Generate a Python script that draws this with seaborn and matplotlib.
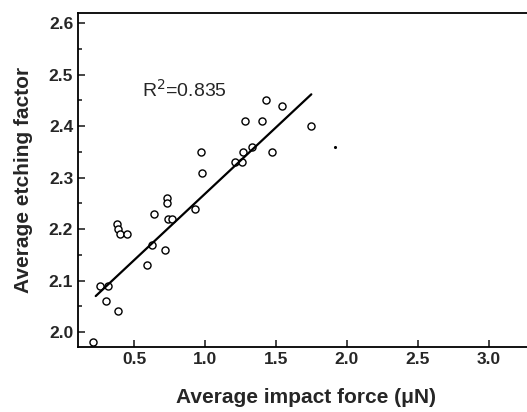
import numpy as np
import pandas as pd
import seaborn as sns
import matplotlib.pyplot as plt
from matplotlib.ticker import MultipleLocator

# impact force (uN) vs etching factor
force = [0.21, 0.26, 0.32, 0.30, 0.39, 0.38, 0.39, 0.40, 0.45,
         0.59, 0.63, 0.64, 0.72, 0.73, 0.73, 0.74, 0.77, 0.93,
         0.97, 0.98, 1.21, 1.26, 1.27, 1.33, 1.28, 1.40, 1.43,
         1.54, 1.47, 1.75]
etching = [1.98, 2.09, 2.09, 2.06, 2.04, 2.21, 2.20, 2.19, 2.19,
           2.13, 2.17, 2.23, 2.16, 2.26, 2.25, 2.22, 2.22, 2.24,
           2.35, 2.31, 2.33, 2.33, 2.35, 2.36, 2.41, 2.41, 2.45,
           2.44, 2.35, 2.40]
# fitted line as drawn in the figure (end points)
fit_x = [0.23, 1.75]
fit_y = [2.070, 2.462]
stray_x = [1.92]
stray_y = [2.36]
r2_text = "R$^2$=0.835"

df = pd.DataFrame({"force": force, "etching": etching})

sns.set_theme(style="ticks")
plt.rcParams['font.family'] = ['Liberation Sans', 'DejaVu Sans']

fig = plt.figure(figsize=(5.27, 4.12), dpi=100)
# right spine lies just past the image edge
ax = fig.add_axes([78 / 527, 1 - 347 / 412, (534 - 78) / 527, (347 - 13) / 412])

sns.scatterplot(data=df, x="force", y="etching", ax=ax, s=26,
                facecolor="white", edgecolor="black", linewidth=1.0)
sns.lineplot(x=fit_x, y=fit_y, ax=ax, color="black", lw=1.6)
ax.scatter(stray_x, stray_y, s=1.5, color="black")

ax.text(0.555, 2.457, r2_text, fontsize=14, ha="left", va="baseline")

ax.set_xlim(0.105, 3.32)
ax.set_ylim(1.971, 2.62)
ax.xaxis.set_major_locator(MultipleLocator(0.5))
ax.yaxis.set_major_locator(MultipleLocator(0.1))
ax.yaxis.set_minor_locator(MultipleLocator(0.05))
ax.tick_params(which="both", direction="in", width=1.2, labelsize=12.5)
ax.tick_params(which="major", length=5)
ax.tick_params(which="minor", length=3)
for lab in ax.get_xticklabels() + ax.get_yticklabels():
    lab.set_fontweight("bold")

for side in ["left", "bottom", "top"]:
    ax.spines[side].set_visible(True)
    ax.spines[side].set_linewidth(1.3)
    ax.spines[side].set_color("black")
ax.spines["right"].set_visible(False)

ax.set_xlabel("Average impact force (\u03bcN)", fontsize=15, fontweight="bold", labelpad=15)
ax.set_ylabel("Average etching factor", fontsize=15, fontweight="bold", labelpad=11)

fig.savefig("out.png", dpi=100)
